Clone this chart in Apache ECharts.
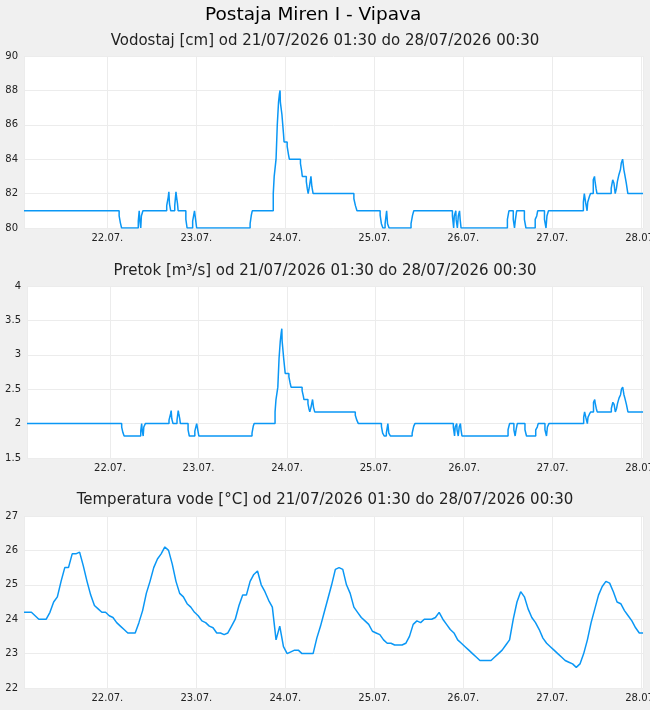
<!DOCTYPE html>
<html>
<head>
<meta charset="utf-8">
<script src="https://cdn.jsdelivr.net/npm/echarts@6/dist/echarts.min.js"></script>
<style>
  html, body { margin: 0; padding: 0; background: #f0f0f0; overflow: hidden; }
  #chart { width: 650px; height: 710px; }
</style>
</head>
<body>
<div id="chart"></div>
<script>
// change points of the water level / discharge step series
const stepTimes = [
    '2026-07-21 01:30',
    '2026-07-22 03:10', '2026-07-22 03:30', '2026-07-22 03:50', '2026-07-22 08:20', '2026-07-22 08:35',
    '2026-07-22 08:45', '2026-07-22 09:00', '2026-07-22 09:10', '2026-07-22 09:35', '2026-07-22 16:00',
    '2026-07-22 16:25', '2026-07-22 16:35', '2026-07-22 16:45', '2026-07-22 17:05', '2026-07-22 18:10',
    '2026-07-22 18:30', '2026-07-22 18:40', '2026-07-22 18:55', '2026-07-22 19:05', '2026-07-22 21:10',
    '2026-07-22 21:30', '2026-07-22 23:00', '2026-07-22 23:30', '2026-07-22 23:40',
    '2026-07-23 00:05', '2026-07-23 14:30', '2026-07-23 14:50', '2026-07-23 15:05', '2026-07-23 20:45',
    '2026-07-23 21:00', '2026-07-23 21:30', '2026-07-23 21:50', '2026-07-23 22:10', '2026-07-23 22:25',
    '2026-07-23 22:35', '2026-07-23 22:40', '2026-07-23 23:05', '2026-07-23 23:30', '2026-07-23 23:40',
    '2026-07-24 00:30', '2026-07-24 00:50', '2026-07-24 01:05', '2026-07-24 04:05', '2026-07-24 04:25',
    '2026-07-24 04:35', '2026-07-24 05:40', '2026-07-24 05:55', '2026-07-24 06:10', '2026-07-24 06:30',
    '2026-07-24 06:55', '2026-07-24 07:10', '2026-07-24 07:30', '2026-07-24 18:30', '2026-07-24 18:55',
    '2026-07-24 19:20',
    '2026-07-25 01:35', '2026-07-25 01:55', '2026-07-25 02:20', '2026-07-25 02:55', '2026-07-25 03:20',
    '2026-07-25 03:35', '2026-07-25 04:00', '2026-07-25 09:55', '2026-07-25 10:20', '2026-07-25 10:40',
    '2026-07-25 21:05', '2026-07-25 21:25', '2026-07-25 21:35', '2026-07-25 22:00', '2026-07-25 22:05',
    '2026-07-25 22:25', '2026-07-25 22:40', '2026-07-25 23:00', '2026-07-25 23:10', '2026-07-25 23:25',
    '2026-07-26 11:55', '2026-07-26 12:20', '2026-07-26 13:30', '2026-07-26 13:50', '2026-07-26 14:05',
    '2026-07-26 14:25', '2026-07-26 16:30', '2026-07-26 16:55', '2026-07-26 19:25', '2026-07-26 19:50',
    '2026-07-26 20:05', '2026-07-26 21:55', '2026-07-26 22:20', '2026-07-26 22:35', '2026-07-26 23:00',
    '2026-07-27 08:25', '2026-07-27 08:40', '2026-07-27 09:00', '2026-07-27 09:25', '2026-07-27 09:35',
    '2026-07-27 10:00', '2026-07-27 10:20', '2026-07-27 11:05', '2026-07-27 11:25', '2026-07-27 11:30',
    '2026-07-27 11:50', '2026-07-27 12:05', '2026-07-27 15:55', '2026-07-27 16:20', '2026-07-27 16:40',
    '2026-07-27 17:00', '2026-07-27 17:20', '2026-07-27 17:35', '2026-07-27 18:00', '2026-07-27 18:25',
    '2026-07-27 18:40', '2026-07-27 19:00', '2026-07-27 19:20', '2026-07-27 19:35', '2026-07-27 20:00',
    '2026-07-27 20:25',
    '2026-07-28 00:30'
];

const levelCm = [
    81,
    80.7, 80.3, 80, 80.4, 81,
    80.4, 80, 80.7, 81, 81.3,
    81.8, 82.1, 81.4, 81, 81.3,
    82.1, 81.8, 81.4, 81, 80.5,
    80, 80.4, 81, 80.7,
    80, 80.25, 80.75, 81, 82,
    83, 84, 86, 87.3, 87.8,
    88, 87.3, 86.6, 85.5, 85,
    84.75, 84.3, 84, 83.75, 83.3,
    83, 82.7, 82.3, 82, 82.4,
    83, 82.4, 82, 81.7, 81.3,
    81,
    80.75, 80.25, 80, 80.25, 81,
    80.25, 80, 80.25, 80.75, 81,
    80.7, 80, 80.7, 81, 80.5,
    80, 80.7, 81, 80.5, 80,
    80.5, 81, 80.5, 80, 80.5,
    81, 80.5, 80, 80.5, 80.7,
    81, 80.5, 80, 80.7, 81,
    81.5, 82, 81.5, 81, 81.5,
    81.8, 82, 82.8, 83, 82.8,
    82.3, 82, 82.3, 82.8, 82.6,
    82, 82.3, 82.7, 83.1, 83.4,
    83.8, 84, 83.4, 83.1, 82.6,
    82,
    82
];

const flowM3s = [
    2.0,
    1.95, 1.87, 1.82, 1.89, 2.0,
    1.89, 1.82, 1.95, 2.0, 2.05,
    2.14, 2.19, 2.07, 2.0, 2.05,
    2.19, 2.14, 2.07, 2.0, 1.91,
    1.82, 1.89, 2.0, 1.95,
    1.82, 1.86, 1.96, 2.0, 2.17,
    2.35, 2.53, 2.95, 3.2, 3.32,
    3.38, 3.2, 2.95, 2.73, 2.73,
    2.68, 2.59, 2.53, 2.48, 2.4,
    2.35, 2.29, 2.22, 2.17, 2.24,
    2.35, 2.24, 2.17, 2.12, 2.05,
    2.0,
    1.96, 1.86, 1.82, 1.86, 2.0,
    1.86, 1.82, 1.86, 1.96, 2.0,
    1.95, 1.82, 1.95, 2.0, 1.91,
    1.82, 1.95, 2.0, 1.91, 1.82,
    1.91, 2.0, 1.91, 1.82, 1.91,
    2.0, 1.91, 1.82, 1.91, 1.95,
    2.0, 1.91, 1.82, 1.95, 2.0,
    2.09, 2.17, 2.09, 2.0, 2.09,
    2.14, 2.17, 2.31, 2.35, 2.31,
    2.22, 2.17, 2.22, 2.31, 2.28,
    2.17, 2.22, 2.29, 2.37, 2.42,
    2.5, 2.53, 2.42, 2.37, 2.28,
    2.17,
    2.17
];

// water temperature, hourly from 21/07 01:30 to 28/07 00:30
const tempStart = '2026-07-21 01:30';
const tempC = [
    // 21.07. 01:30 .. 23:30
    24.2, 24.2, 24.2, 24.1, 24.0, 24.0, 24.0, 24.2, 24.5, 24.65, 25.1, 25.5,
    25.5, 25.9, 25.9, 25.95, 25.55, 25.1, 24.7, 24.4, 24.3, 24.2, 24.2,
    // 22.07.
    24.1, 24.05, 23.9, 23.8, 23.7, 23.6, 23.6, 23.6, 23.9, 24.25, 24.75, 25.1,
    25.5, 25.75, 25.9, 26.1, 26.0, 25.6, 25.1, 24.75, 24.65, 24.45, 24.35, 24.2,
    // 23.07.
    24.1, 23.95, 23.9, 23.8, 23.75, 23.6, 23.6, 23.55, 23.6, 23.8, 24.0, 24.4,
    24.7, 24.7, 25.1, 25.3, 25.4, 25.0, 24.8, 24.55, 24.35, 23.4, 23.8, 23.2,
    // 24.07.
    23.0, 23.05, 23.1, 23.1, 23.0, 23.0, 23.0, 23.0, 23.45, 23.8, 24.2, 24.6,
    25.0, 25.45, 25.5, 25.45, 25.0, 24.75, 24.35, 24.2, 24.05, 23.95, 23.85, 23.65,
    // 25.07.
    23.6, 23.55, 23.4, 23.3, 23.3, 23.25, 23.25, 23.25, 23.3, 23.5, 23.85, 23.95,
    23.9, 24.0, 24.0, 24.0, 24.05, 24.2, 24.0, 23.85, 23.7, 23.6, 23.4, 23.3,
    // 26.07.
    23.2, 23.1, 23.0, 22.9, 22.8, 22.8, 22.8, 22.8, 22.9, 23.0, 23.1, 23.25,
    23.4, 24.0, 24.5, 24.8, 24.65, 24.3, 24.05, 23.9, 23.7, 23.45, 23.3, 23.2,
    // 27.07.
    23.1, 23.0, 22.9, 22.8, 22.75, 22.7, 22.6, 22.7, 23.0, 23.4, 23.9, 24.3,
    24.7, 24.95, 25.1, 25.05, 24.8, 24.5, 24.45, 24.25, 24.1, 23.95, 23.75, 23.6,
    // 28.07. 00:30
    23.6
];

const startTime = '2026-07-21 01:30';
const endTime = '2026-07-28 00:30';
const mainTitle = 'Postaja Miren I - Vipava';
const subTitles = [
    'Vodostaj [cm] od 21/07/2026 01:30 do 28/07/2026 00:30',
    'Pretok [m³/s] od 21/07/2026 01:30 do 28/07/2026 00:30',
    'Temperatura vode [°C] od 21/07/2026 01:30 do 28/07/2026 00:30'
];

function toMs(s) {
    const p = s.split(/[- :]/).map(Number);
    return new Date(p[0], p[1] - 1, p[2], p[3], p[4]).getTime();
}
function pad2(n) { return n < 10 ? '0' + n : '' + n }

const t0 = toMs(tempStart);
const tempData = tempC.map((v, i) => [t0 + i * 3600000, v]);
const levelData = stepTimes.map((t, i) => [toMs(t), levelCm[i]]);
const flowData = stepTimes.map((t, i) => [toMs(t), flowM3s[i]]);

const FONT = 'DejaVu Sans';
const LINE = '#0a97f5';
const GRIDLINE = '#ececec';

function xAxisFor(idx) {
    return {
        type: 'time',
        gridIndex: idx,
        min: toMs(startTime),
        max: toMs(endTime),
        minInterval: 86400000,
        maxInterval: 86400000,
        axisLine: { show: false },
        axisTick: { show: false },
        splitLine: { show: true, lineStyle: { color: GRIDLINE, width: 1 } },
        axisLabel: {
            fontFamily: FONT,
            fontSize: 10,
            color: '#222',
            margin: 5,
            formatter: function (v) {
                const d = new Date(v);
                return pad2(d.getDate()) + '.' + pad2(d.getMonth() + 1) + '.';
            }
        }
    };
}

function yAxisFor(idx, min, max, interval) {
    return {
        type: 'value',
        gridIndex: idx,
        min: min,
        max: max,
        interval: interval,
        axisLine: { show: false },
        axisTick: { show: false },
        splitLine: { show: true, lineStyle: { color: GRIDLINE, width: 1 } },
        axisLabel: { fontFamily: FONT, fontSize: 10, color: '#222', margin: 6 }
    };
}

function lineSeries(idx, data, step) {
    return {
        type: 'line',
        xAxisIndex: idx,
        yAxisIndex: idx,
        data: data,
        step: step,
        showSymbol: false,
        animation: false,
        lineStyle: { color: LINE, width: 1.5 }
    };
}

function gridAt(left, top) {
    return {
        left: left, right: 7, top: top, height: 172,
        outerBoundsMode: 'none', containLabel: false,
        show: true, backgroundColor: '#fff', borderWidth: 0
    };
}

const subStyle = { fontFamily: FONT, fontSize: 15, fontWeight: 'normal', color: '#222' };

const chart = echarts.init(document.getElementById('chart'), null, { renderer: 'canvas' });
chart.setOption({
    backgroundColor: '#f0f0f0',
    animation: false,
    title: [
        { text: mainTitle, left: 200, top: 1,
          textStyle: { fontFamily: FONT, fontSize: 18.5, fontWeight: 'normal', color: '#000' } },
        { text: subTitles[0], left: 'center', top: 29, textStyle: subStyle },
        { text: subTitles[1], left: 'center', top: 259, textStyle: subStyle },
        { text: subTitles[2], left: 'center', top: 488, textStyle: subStyle }
    ],
    grid: [gridAt(24, 56), gridAt(27, 286), gridAt(24, 516)],
    xAxis: [xAxisFor(0), xAxisFor(1), xAxisFor(2)],
    yAxis: [
        yAxisFor(0, 80, 90, 2),
        yAxisFor(1, 1.5, 4, 0.5),
        yAxisFor(2, 22, 27, 1)
    ],
    series: [
        lineSeries(0, levelData, 'end'),
        lineSeries(1, flowData, 'end'),
        lineSeries(2, tempData, false)
    ]
});
</script>
</body>
</html>
